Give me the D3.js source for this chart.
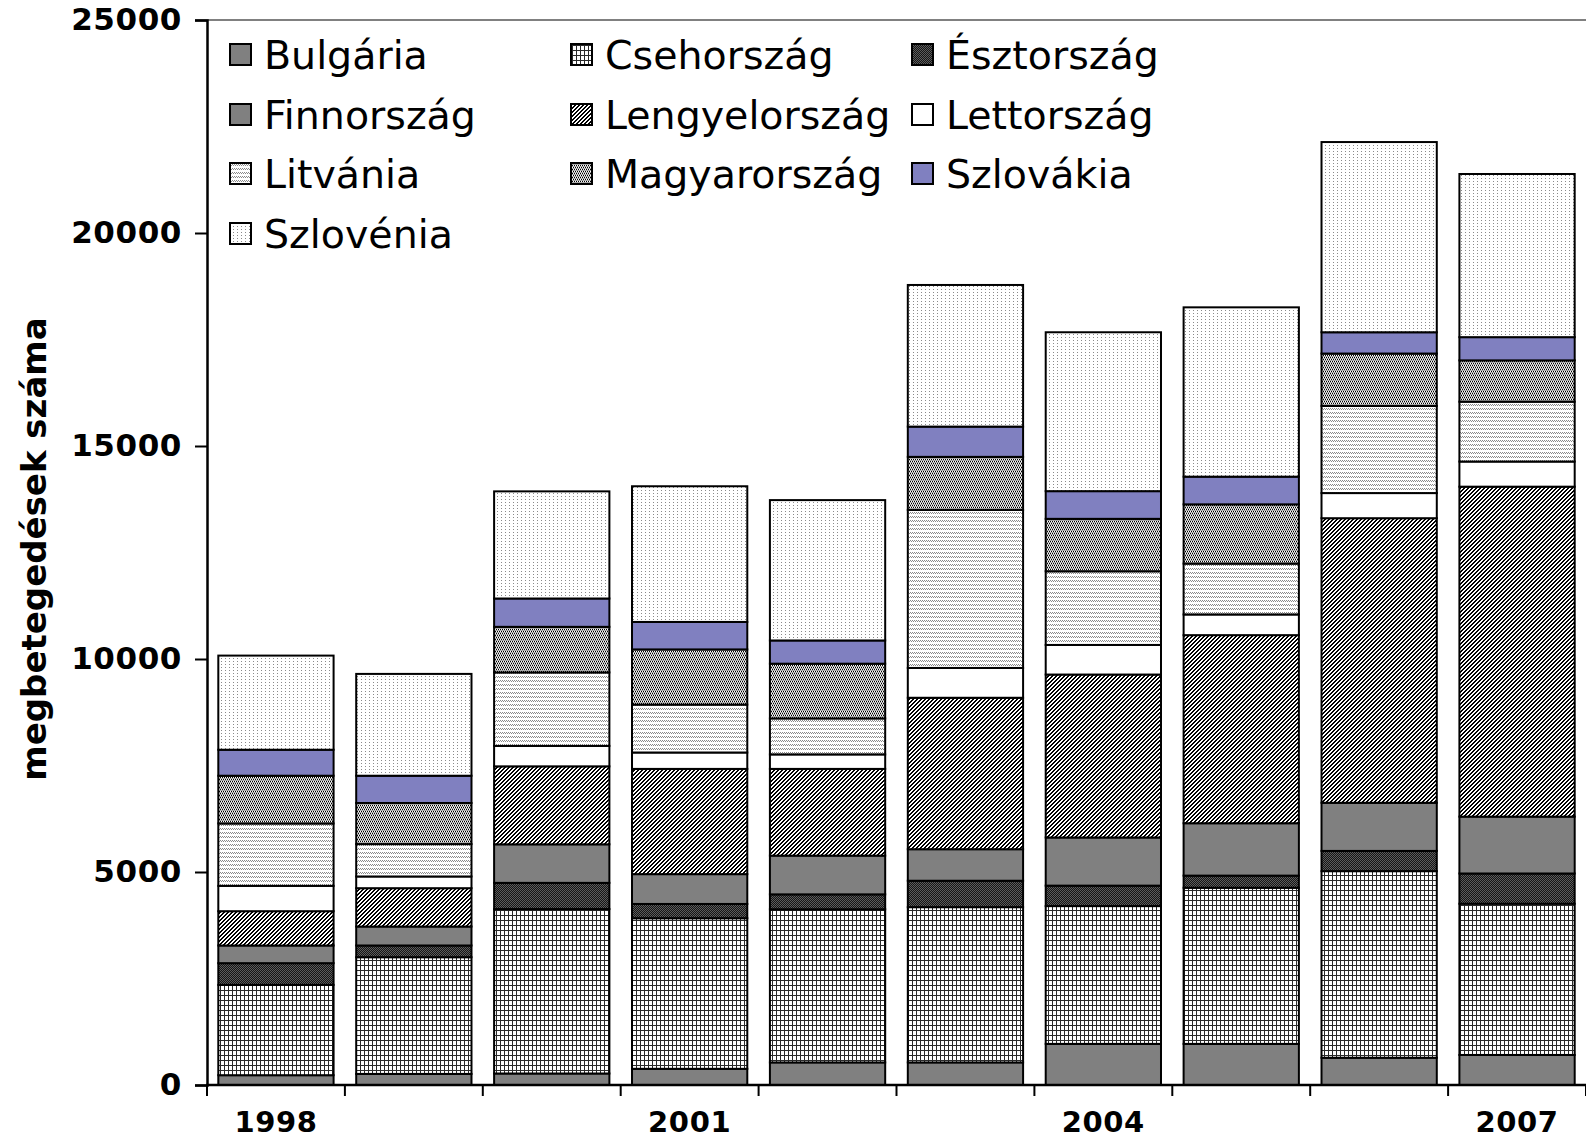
<!DOCTYPE html>
<html>
<head>
<meta charset="utf-8">
<script src="https://cdn.jsdelivr.net/npm/d3@7"></script>
<style>
  body { margin: 0; background: #fff; }
  svg { display: block; }
</style>
</head>
<body>
<svg id="chart" width="1586" height="1140"></svg>
<script>
// ---------------- data ----------------
const years = ["1998","1999","2000","2001","2002","2003","2004","2005","2006","2007"];
const xTickLabels = ["1998","2001","2004","2007"];
const yTicks = [0, 5000, 10000, 15000, 20000, 25000];
const seriesNames = ["Bulgária","Csehország","Észtország","Finnország","Lengyelország","Lettország","Litvánia","Magyarország","Szlovákia","Szlovénia"];

const bulgaria      = [230, 260, 270, 380, 530, 530, 965, 965, 640, 705];
const csehorszag    = [2120, 2740, 3860, 3535, 3595, 3645, 3235, 3665, 4380, 3550];
const esztorszag    = [510, 275, 615, 335, 350, 620, 480, 285, 475, 710];
const finnorszag    = [415, 445, 905, 700, 910, 740, 1130, 1230, 1130, 1335];
const lengyelorszag = [805, 900, 1830, 2470, 2035, 3555, 3825, 4415, 6680, 7745];
const lettorszag    = [595, 275, 480, 385, 340, 700, 695, 485, 590, 590];
const litvania      = [1465, 760, 1725, 1125, 845, 3710, 1730, 1195, 2045, 1405];
const magyarorszag  = [1120, 965, 1070, 1295, 1285, 1245, 1230, 1390, 1230, 970];
const szlovakia     = [610, 640, 665, 645, 545, 710, 650, 650, 500, 545];
const szlovenia     = [2210, 2390, 2515, 3185, 3295, 3325, 3730, 3975, 4465, 3830];

const seriesValues = [bulgaria, csehorszag, esztorszag, finnorszag, lengyelorszag,
                      lettorszag, litvania, magyarorszag, szlovakia, szlovenia];

// table for d3.stack
const table = years.map((y, i) => {
  const row = { year: y };
  seriesNames.forEach((n, k) => row[n] = seriesValues[k][i]);
  return row;
});

// ---------------- setup ----------------
const svg = d3.select("#chart");
const defs = svg.append("defs");

function pattern(id, w, h, bg, pixels) {
  const p = defs.append("pattern").attr("id", id)
    .attr("patternUnits", "userSpaceOnUse").attr("width", w).attr("height", h);
  p.append("rect").attr("width", w).attr("height", h).attr("fill", bg);
  pixels.forEach(([x, y, c, pw, ph]) => {
    p.append("rect").attr("x", x).attr("y", y)
      .attr("width", pw || 1).attr("height", ph || 1).attr("fill", c);
  });
  return "url(#" + id + ")";
}

const fills = {};
fills["Bulgária"] = "#808080";
fills["Csehország"] = pattern("p-cz", 4, 5, "#ffffff", [[0,0,"#2a2a2a",1,5],[0,0,"#2a2a2a",4,1]]);
fills["Észtország"] = pattern("p-ee", 2, 2, "#161616", [[0,0,"#5c5c5c"],[1,1,"#5c5c5c"]]);
fills["Finnország"] = "#808080";
fills["Lengyelország"] = pattern("p-pl", 4, 4, "#ffffff", [
  [3,0,"#000"],[0,0,"#000"],
  [2,1,"#000"],[3,1,"#000"],
  [1,2,"#000"],[2,2,"#000"],
  [0,3,"#000"],[1,3,"#000"]]);
fills["Lettország"] = "#ffffff";
fills["Litvánia"] = pattern("p-lt", 2, 4, "#ffffff", [[0,0,"#8a8a8a"],[1,1,"#8a8a8a"]]);
fills["Magyarország"] = pattern("p-hu", 4, 4, "#aaaaaa", [
  [0,1,"#000"],[2,1,"#000"],[1,1,"#fff"],[3,1,"#fff"],
  [1,3,"#000"],[3,3,"#000"],[0,3,"#fff"],[2,3,"#fff"]]);
fills["Szlovákia"] = "#8080c0";
fills["Szlovénia"] = pattern("p-si", 4, 3, "#ffffff", [[1,1,"#8a8a8a"]]);

const plotLeft = 207, plotRight = 1586, plotTop = 20, plotBottom = 1085;

const x = d3.scaleBand().domain(years).range([plotLeft, plotRight])
  .paddingInner(0.164).paddingOuter(0.082);
const y = d3.scaleLinear().domain([0, 25000]).range([plotBottom, plotTop]);

// top border of plot area
svg.append("line").attr("x1", plotLeft).attr("x2", plotRight)
  .attr("y1", plotTop).attr("y2", plotTop)
  .attr("stroke", "#808080").attr("stroke-width", 2);

// ---------------- bars ----------------
const stack = d3.stack().keys(seriesNames)(table);
svg.append("g").selectAll("g").data(stack).join("g")
  .attr("fill", d => fills[d.key])
  .selectAll("rect").data(d => d).join("rect")
  .attr("x", d => x(d.data.year))
  .attr("width", x.bandwidth())
  .attr("y", d => y(d[1]))
  .attr("height", d => y(d[0]) - y(d[1]))
  .attr("stroke", "#000").attr("stroke-width", 2);

// ---------------- axes ----------------
const yAxis = svg.append("g").attr("transform", `translate(${plotLeft},0)`)
  .call(d3.axisLeft(y).tickValues(yTicks).tickSize(12).tickPadding(13).tickFormat(d3.format("d")));
yAxis.select(".domain").attr("stroke", "#000").attr("stroke-width", 2.5);
yAxis.selectAll(".tick line").attr("stroke", "#000").attr("stroke-width", 2);
yAxis.selectAll("text").attr("font-family", "'DejaVu Sans', Verdana, sans-serif")
  .attr("font-weight", "bold").attr("font-size", 31).attr("letter-spacing", 0.6).attr("fill", "#000");

const xAxis = svg.append("g").attr("transform", `translate(0,${plotBottom})`)
  .call(d3.axisBottom(x).tickValues(xTickLabels).tickSize(0).tickPadding(26));
xAxis.select(".domain").remove();
xAxis.selectAll("text").attr("font-family", "'DejaVu Sans', Verdana, sans-serif")
  .attr("font-weight", "bold").attr("font-size", 29).attr("letter-spacing", 0.6).attr("fill", "#000");

svg.append("line").attr("x1", plotLeft - 1).attr("x2", plotRight)
  .attr("y1", plotBottom).attr("y2", plotBottom)
  .attr("stroke", "#000").attr("stroke-width", 2.5);

// category boundary ticks
const half = (x.step() - x.bandwidth()) / 2;
const bounds = years.map(yv => x(yv) - half).concat([x(years[years.length - 1]) + x.bandwidth() + half]);
svg.append("g").selectAll("line").data(bounds).join("line")
  .attr("x1", d => d).attr("x2", d => d)
  .attr("y1", plotBottom).attr("y2", plotBottom + 11)
  .attr("stroke", "#000").attr("stroke-width", 2);

// y title
svg.append("text")
  .attr("transform", "translate(34,549) rotate(-90)")
  .attr("text-anchor", "middle").attr("dominant-baseline", "central")
  .attr("font-family", "'DejaVu Sans', Verdana, sans-serif")
  .attr("font-weight", "bold").attr("font-size", 34)
  .text("megbetegedések száma");

// ---------------- legend ----------------
const legendCols = [230, 571, 912];
const legendRows = [55, 115, 174, 234];
const lg = svg.append("g");
seriesNames.forEach((n, i) => {
  const cx = legendCols[i % 3], cy = legendRows[Math.floor(i / 3)];
  lg.append("rect").attr("x", cx).attr("y", cy - 11).attr("width", 21).attr("height", 21)
    .attr("fill", fills[n]).attr("stroke", "#000").attr("stroke-width", 2);
  lg.append("text").attr("x", cx + 34).attr("y", cy)
    .attr("dominant-baseline", "central")
    .attr("font-family", "'DejaVu Sans', Verdana, sans-serif")
    .attr("font-size", 39.5).attr("fill", "#000").text(n);
});
</script>
</body>
</html>
